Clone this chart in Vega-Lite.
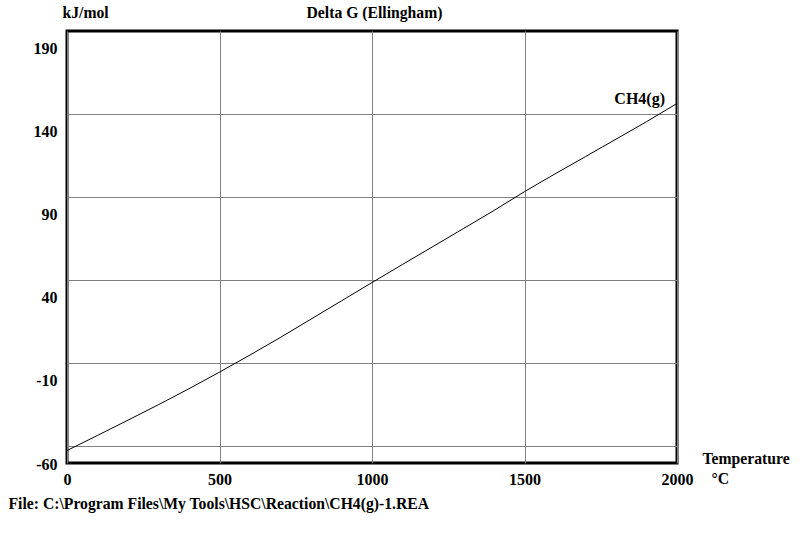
{
  "$schema": "https://vega.github.io/schema/vega-lite/v6.json",
  "autosize": {"type": "none"},
  "padding": {"left": 67, "top": 31, "right": 126, "bottom": 76},
  "width": 610,
  "height": 432,
  "background": "white",
  "config": {
    "view": {"stroke": "black", "strokeWidth": 3},
    "axis": {
      "domain": false,
      "ticks": false,
      "labelFont": "Liberation Serif",
      "labelFontSize": 16,
      "labelFontWeight": "bold",
      "labelColor": "black",
      "labelFlush": false,
      "labelOverlap": false,
      "labelExpr": "datum.value + ''",
      "titleFont": "Liberation Serif",
      "titleFontSize": 15.7,
      "titleFontWeight": "bold",
      "titleColor": "black",
      "gridColor": "#808080",
      "gridWidth": 1,
      "gridOpacity": 1
    }
  },
  "data": {
    "values": [
      {"T": 0, "G": -52.5},
      {"T": 100, "G": -43.4},
      {"T": 200, "G": -34.2},
      {"T": 300, "G": -24.9},
      {"T": 400, "G": -15.3},
      {"T": 500, "G": -5.3},
      {"T": 600, "G": 5.0},
      {"T": 700, "G": 15.6},
      {"T": 800, "G": 26.6},
      {"T": 900, "G": 37.6},
      {"T": 1000, "G": 48.6},
      {"T": 1100, "G": 59.5},
      {"T": 1200, "G": 70.3},
      {"T": 1300, "G": 81.1},
      {"T": 1400, "G": 92.0},
      {"T": 1500, "G": 103.3},
      {"T": 1600, "G": 114.0},
      {"T": 1700, "G": 124.4},
      {"T": 1800, "G": 134.9},
      {"T": 1900, "G": 145.4},
      {"T": 2000, "G": 156.4}
    ]
  },
  "resolve": {"axis": {"x": "independent", "y": "independent"}},
  "layer": [
    {
      "mark": {"type": "line", "color": "black", "strokeWidth": 1},
      "encoding": {
        "x": {
          "field": "T", "type": "quantitative",
          "scale": {"domain": [0, 2000], "nice": false, "zero": false},
          "axis": {
            "orient": "bottom",
            "values": [0, 500, 1000, 1500, 2000],
            "grid": true,
            "labelPadding": 8,
            "title": "Temperature",
            "titleX": 635,
            "titleY": -5,
            "titleAlign": "left",
            "titleBaseline": "middle"
          }
        },
        "y": {
          "field": "G", "type": "quantitative",
          "scale": {"domain": [-60, 200], "nice": false, "zero": false},
          "axis": {
            "orient": "left",
            "values": [-50, 0, 50, 100, 150],
            "grid": true,
            "labels": false,
            "title": null
          }
        }
      }
    },
    {
      "transform": [{"filter": "datum.T == 2000"}],
      "mark": {
        "type": "text",
        "text": "CH4(g)",
        "align": "right",
        "baseline": "middle",
        "dx": -12,
        "dy": -4,
        "font": "Liberation Serif",
        "fontSize": 16,
        "fontWeight": "bold",
        "color": "black"
      },
      "encoding": {
        "x": {
          "field": "T", "type": "quantitative",
          "axis": {
            "orient": "bottom",
            "labels": false,
            "grid": false,
            "title": "°C",
            "titleX": 644,
            "titleY": 15,
            "titleAlign": "left",
            "titleBaseline": "middle"
          }
        },
        "y": {
          "field": "G", "type": "quantitative",
          "axis": {
            "orient": "left",
            "values": [-60, -10, 40, 90, 140, 190],
            "grid": false,
            "labelPadding": 10,
            "labelBaseline": "middle",
            "labelOffset": 1,
            "title": "kJ/mol",
            "titleAngle": 0,
            "titleX": -5,
            "titleY": -19,
            "titleAlign": "left",
            "titleBaseline": "middle"
          }
        }
      }
    },
    {
      "mark": {"type": "line", "strokeOpacity": 0},
      "encoding": {
        "x": {
          "field": "T", "type": "quantitative",
          "axis": {
            "orient": "bottom",
            "labels": false,
            "grid": false,
            "title": "File: C:\\Program Files\\My Tools\\HSC\\Reaction\\CH4(g)-1.REA",
            "titleX": -59,
            "titleY": 40,
            "titleAlign": "left",
            "titleBaseline": "middle"
          }
        },
        "y": {"field": "G", "type": "quantitative", "axis": null}
      }
    },
    {
      "mark": {"type": "line", "strokeOpacity": 0},
      "encoding": {
        "x": {
          "field": "T", "type": "quantitative",
          "axis": {
            "orient": "top",
            "labels": false,
            "grid": false,
            "title": "Delta G (Ellingham)",
            "titleX": 307,
            "titleY": -19,
            "titleAlign": "center",
            "titleBaseline": "middle"
          }
        },
        "y": {"field": "G", "type": "quantitative", "axis": null}
      }
    }
  ]
}
